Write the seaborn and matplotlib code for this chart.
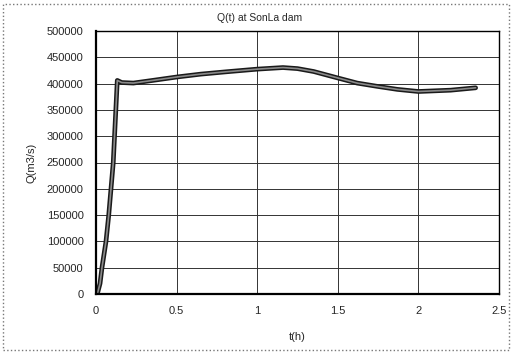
import matplotlib
matplotlib.use("Agg")
import matplotlib.pyplot as plt
import seaborn as sns
import pandas as pd
from matplotlib.patches import Rectangle

t_h = [0.008, 0.025, 0.037, 0.062, 0.079, 0.093, 0.107, 0.132, 0.16, 0.232, 0.35, 0.5,
       0.65, 0.81, 1.0, 1.16, 1.25, 1.35, 1.5, 1.62, 1.74, 1.87, 2.0, 2.2, 2.355]
q_m3s = [0, 20000, 50000, 100000, 150000, 200000, 250000, 406000, 402000, 401000, 406000,
         412500, 418000, 422500, 427500, 430500, 428500, 423000, 410700, 401000, 395000,
         389000, 385000, 387500, 392000]
x_ticks = [0, 0.5, 1, 1.5, 2, 2.5]
x_tick_labels = ["0", "0.5", "1", "1.5", "2", "2.5"]
y_ticks = [0, 50000, 100000, 150000, 200000, 250000, 300000, 350000, 400000, 450000, 500000]
y_tick_labels = [str(v) for v in y_ticks]

df = pd.DataFrame({"t": t_h, "Q": q_m3s})

sns.set_style("white")
plt.rcParams["font.family"] = ["Liberation Sans", "DejaVu Sans"]

W, H = 513, 353
fig = plt.figure(figsize=(W / 100, H / 100), dpi=100)
ax = fig.add_axes([96 / W, 1 - 294 / H, (499 - 96) / W, (294 - 31) / H])

sns.lineplot(data=df, x="t", y="Q", ax=ax, color="#1a1a1a", linewidth=3.4, sort=False)
sns.lineplot(data=df, x="t", y="Q", ax=ax, color="#8a8a8a", linewidth=1.2, sort=False)

ax.set_xlim(0, 2.5)
ax.set_ylim(0, 500000)
ax.set_xticks(x_ticks)
ax.set_xticklabels(x_tick_labels, fontsize=8)
ax.set_yticks(y_ticks)
ax.set_yticklabels(y_tick_labels, fontsize=8)
ax.tick_params(axis="both", direction="out", length=3, width=0.8, color="black", pad=6)
ax.grid(True, color="#333333", linewidth=0.7)
for s in ax.spines.values():
    s.set_color("black")
    s.set_linewidth(1.0)
ax.spines["left"].set_linewidth(1.6)
ax.spines["bottom"].set_linewidth(1.6)

ax.set_xlabel("t(h)", fontsize=8, labelpad=11)
ax.set_ylabel("Q(m3/s)", fontsize=8, labelpad=7)
fig.text(260 / W, 1 - 18 / H, "Q(t) at SonLa dam", fontsize=7.5, ha="center", va="center")

fig.patches.append(Rectangle((3 / W, 3 / H), (509 - 3) / W, (349 - 3) / H,
                             transform=fig.transFigure, fill=False,
                             edgecolor="#777777", linestyle=":", linewidth=1.0))

fig.savefig("out.png", dpi=100)
